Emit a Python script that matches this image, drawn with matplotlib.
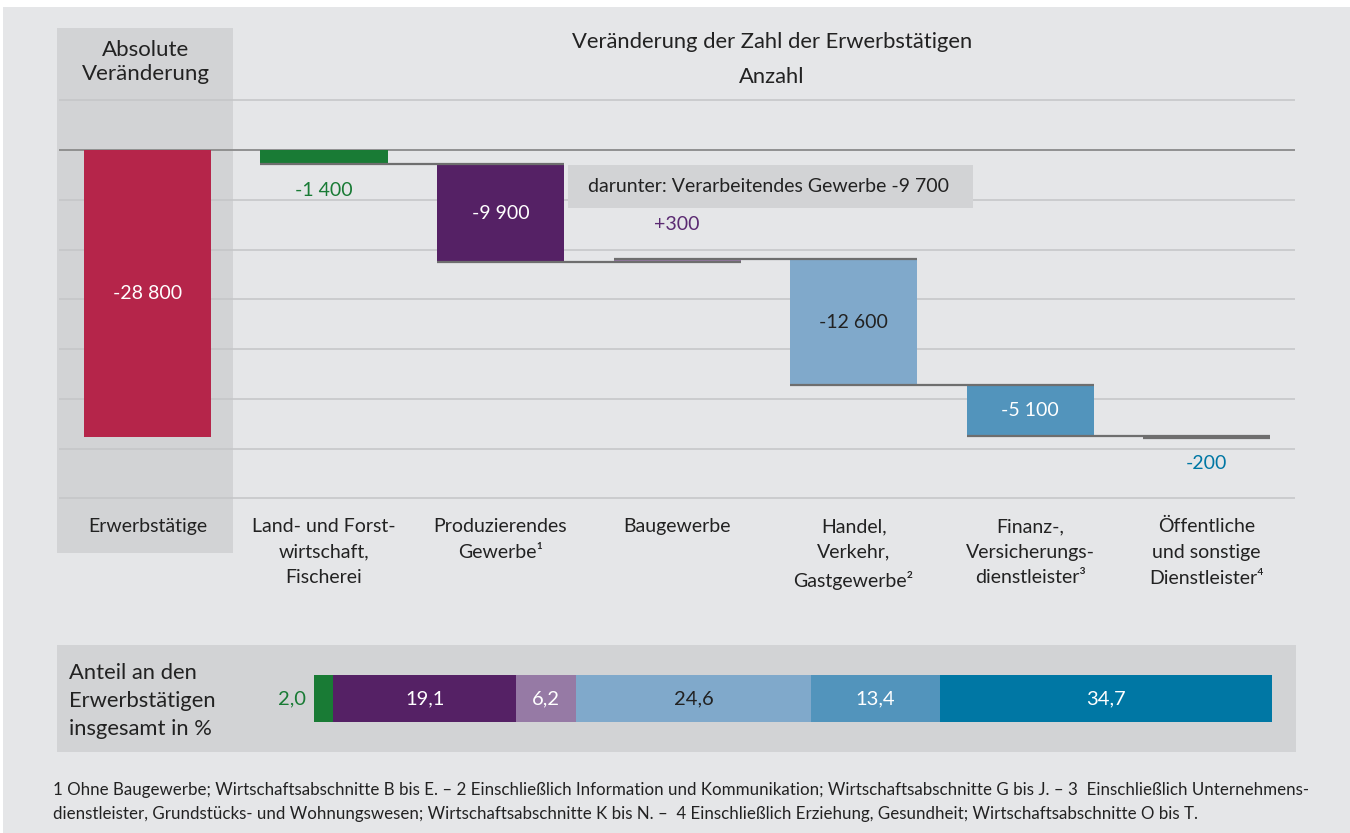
import matplotlib.pyplot as plt
import matplotlib.transforms as mtransforms
from matplotlib.patches import Rectangle
import numpy as np

plt.rcParams['font.family'] = ['Lato', 'DejaVu Sans']

# data
categories = ["Land- und Forst-\nwirtschaft,\nFischerei", "Produzierendes\nGewerbe¹", "Baugewerbe",
              "Handel,\nVerkehr,\nGastgewerbe²", "Finanz-,\nVersicherungs-\ndienstleister³",
              "Öffentliche\nund sonstige\nDienstleister⁴"]
changes = [-1400, -9900, 300, -12600, -5100, -200]
change_labels = ["-1 400", "-9 900", "+300", "-12 600", "-5 100", "-200"]
total = -28800
total_label = "-28 800"
shares = [2.0, 19.1, 6.2, 24.6, 13.4, 34.7]
share_labels = ["2,0", "19,1", "6,2", "24,6", "13,4", "34,7"]
note_text = "darunter: Verarbeitendes Gewerbe -9 700"
footnote = ("1 Ohne Baugewerbe; Wirtschaftsabschnitte B bis E. – 2 Einschließlich Information und Kommunikation; "
            "Wirtschaftsabschnitte G bis J. – 3  Einschließlich Unternehmens-\n"
            "dienstleister, Grundstücks- und Wohnungswesen; Wirtschaftsabschnitte K bis N. –  "
            "4 Einschließlich Erziehung, Gesundheit; Wirtschaftsabschnitte O bis T.")

colors = ["#197b35", "#552165", "#967aa5", "#80a9cb", "#5294bc", "#0077a4"]
total_color = "#b5254a"
bg = "#e5e6e8"
panel = "#d2d3d5"
dark = "#222222"

W, H = 1350, 833
fig = plt.figure(figsize=(W / 100, H / 100), dpi=100, facecolor=bg)


def fx(p):
    return p / W


def fy(p):
    return 1 - p / H


# white margin at the top / left
fig.patches.append(Rectangle((0, fy(7)), 1, 7 / H, transform=fig.transFigure, fc="white", ec="none", zorder=0))
fig.patches.append(Rectangle((0, 0), 3 / W, 1, transform=fig.transFigure, fc="white", ec="none", zorder=0))

# main waterfall axes
ax = fig.add_axes([fx(57), fy(553), 1238 / W, 525 / H])
ax.set_facecolor("none")
upp = 5000 / 49.75
ax.set_ylim(-403 * upp, 122 * upp)
ax.set_xlim(-0.5125, 6.5)
ax.axis("off")

ax.axvspan(-0.5125, 0.485, color=panel, zorder=0, lw=0)
grid_vals = np.arange(-35000, 5001, 5000)
for g in grid_vals:
    if g == 0:
        ax.hlines(g, -0.5, 6.5, color="#8a8a8a", lw=1.3, zorder=1)
    else:
        ax.hlines(g, -0.5, 6.5, color="#c4c5c7", lw=1.1, zorder=1)

bw = 0.72
# total bar
ax.bar(0, total, width=bw, color=total_color, zorder=3)
ax.text(0, total / 2, total_label, ha="center", va="center", color="white", fontsize=14, zorder=5)

xs = np.arange(1, len(changes) + 1)
ends = np.cumsum(changes)
starts = ends - np.array(changes)
ax.bar(xs, changes, bottom=starts, width=bw, color=colors, zorder=3)

for i, x in enumerate(xs):
    right = xs[i + 1] + bw / 2 if i + 1 < len(xs) else x + bw / 2
    ax.hlines(ends[i], x - bw / 2, right, color="#6e6e6e", lw=1.6, zorder=4)

label_colors = ["#197b35", "white", "#5b2a72", dark, "white", "#0077a4"]
for i, x in enumerate(xs):
    c = changes[i]
    if abs(c) >= 3000:
        ax.text(x, starts[i] + c / 2, change_labels[i], ha="center", va="center",
                color=label_colors[i], fontsize=14, zorder=5)
    elif c > 0:
        ax.annotate(change_labels[i], (x, ends[i]), xytext=(0, 25), textcoords="offset points",
                    ha="center", va="center", color=label_colors[i], fontsize=14)
    else:
        ax.annotate(change_labels[i], (x, min(starts[i], ends[i])), xytext=(0, -19),
                    textcoords="offset points", ha="center", va="center",
                    color=label_colors[i], fontsize=14)

# note box
ax.add_patch(Rectangle((fx(568), fy(208)), 405 / W, 43 / H, transform=fig.transFigure,
                       fc=panel, ec="none", zorder=6))
fig.text(fx(769), fy(187), note_text, ha="center", va="center", fontsize=14, color=dark, zorder=7)

# titles
fig.text(fx(772), fy(42), "Veränderung der Zahl der Erwerbstätigen", ha="center", va="center",
         fontsize=15.8, color=dark)
fig.text(fx(772), fy(77), "Anzahl", ha="center", va="center", fontsize=15.8, color=dark)
fig.text(fx(146), fy(62), "Absolute\nVeränderung", ha="center", va="center", fontsize=16,
         color=dark, linespacing=1.3)

# category labels
trans = mtransforms.blended_transform_factory(ax.transData, fig.transFigure)
ax.text(0, fy(518), "Erwerbstätige", transform=trans, ha="center", va="top", fontsize=14, color=dark)
for x, lab in zip(xs, categories):
    ax.text(x, fy(518), lab, transform=trans, ha="center", va="top", fontsize=14, color=dark,
            linespacing=1.62)

# share bar
ax2 = fig.add_axes([fx(57), fy(752), 1239 / W, 107 / H])
ax2.set_facecolor(panel)
ax2.set_xlim(-26.83, 102.5)
ax2.set_ylim(0, 1)
for s in ax2.spines.values():
    s.set_visible(False)
ax2.set_xticks([])
ax2.set_yticks([])
lefts = np.cumsum(shares) - np.array(shares)
ax2.barh(0.5, shares, left=lefts, height=0.44, color=colors)
share_text_colors = ["#197b35", "white", "white", dark, "white", "white"]
for i, s in enumerate(shares):
    if s < 3:
        ax2.annotate(share_labels[i], (lefts[i], 0.5), xytext=(-6, 0), textcoords="offset points",
                     ha="right", va="center", color=share_text_colors[i], fontsize=14.5)
    else:
        ax2.text(lefts[i] + s / 2, 0.5, share_labels[i], ha="center", va="center",
                 color=share_text_colors[i], fontsize=14.5)
fig.text(fx(69), fy(701), "Anteil an den\nErwerbstätigen\ninsgesamt in %", ha="left", va="center",
         fontsize=15.8, color=dark, linespacing=1.5)

# footnote
fig.text(fx(53), fy(802), footnote, ha="left", va="center", fontsize=12.2, color=dark, linespacing=1.65)

fig.savefig("out.png", dpi=100, facecolor=bg)
